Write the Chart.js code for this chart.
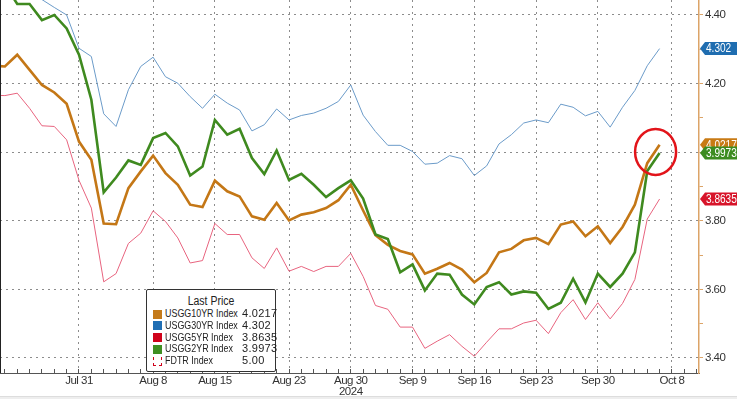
<!DOCTYPE html>
<html>
<head>
<meta charset="utf-8">
<script src="https://cdn.jsdelivr.net/npm/chart.js@4.4.1/dist/chart.umd.min.js"></script>
<style>
    body { margin: 0; background: #fff; }
    #wrap { position: relative; width: 737px; height: 399px; overflow: hidden; }
    #leftEdge { position: absolute; left: 0; top: 0; width: 1px; height: 373px; background: #222; }
    #footer { position: absolute; left: 0; top: 396px; width: 737px; height: 3px; background: #eee; border-top: 1px solid #ddd; }
    #legend {
        position: absolute; left: 146px; top: 289px; width: 128px; height: 81px;
        border: 1px solid #333; border-radius: 2px; background: #fff;
        font-family: 'Liberation Sans', Arial, sans-serif;
        color: #222; font-size: 11px;
    }
    #legend .title { position: relative; height: 13px; line-height: 13px; margin-top: 5px; font-size: 12.5px; }
    #legend .title span { position: absolute; left: 64px; transform: translateX(-50%) scaleX(0.84); white-space: nowrap; }
    #legend .row { position: relative; height: 11.8px; line-height: 11.8px; white-space: nowrap; }
    #legend .sw { position: absolute; left: 6px; top: 1.5px; width: 9px; height: 9px; box-sizing: border-box; }
    #legend .name { position: absolute; left: 18px; transform: scaleX(0.81); transform-origin: left center; }
    #legend .val { position: absolute; left: 95px; letter-spacing: 0.3px; }
</style>
</head>
<body>
<div id="wrap">
    <canvas id="myChart" width="737" height="399"></canvas>
    <div id="leftEdge"></div>
    <div id="footer"></div>
    <div id="legend"></div>
</div>
<script>
// trading days on the axis (data runs Jul 22 - Oct 7)
const axisDates = ['Jul 22', 'Jul 23', 'Jul 24', 'Jul 25', 'Jul 26', 'Jul 29', 'Jul 30', 'Jul 31',
    'Aug 1', 'Aug 2', 'Aug 5', 'Aug 6', 'Aug 7', 'Aug 8', 'Aug 9', 'Aug 12', 'Aug 13', 'Aug 14', 'Aug 15',
    'Aug 16', 'Aug 19', 'Aug 20', 'Aug 21', 'Aug 22', 'Aug 23', 'Aug 26', 'Aug 27', 'Aug 28', 'Aug 29', 'Aug 30',
    'Sep 3', 'Sep 4', 'Sep 5', 'Sep 6', 'Sep 9', 'Sep 10', 'Sep 11', 'Sep 12', 'Sep 13', 'Sep 16', 'Sep 17',
    'Sep 18', 'Sep 19', 'Sep 20', 'Sep 23', 'Sep 24', 'Sep 25', 'Sep 26', 'Sep 27', 'Sep 30',
    'Oct 1', 'Oct 2', 'Oct 3', 'Oct 4', 'Oct 7', 'Oct 8', 'Oct 9', 'Oct 10'];

const tickDates = ['Jul 31', 'Aug 8', 'Aug 15', 'Aug 23', 'Aug 30', 'Sep 9', 'Sep 16', 'Sep 23', 'Sep 30', 'Oct 8'];
const yearLabel = { date: 'Aug 30', text: '2024' };

const yTicks = [3.4, 3.5, 3.6, 3.7, 3.8, 3.9, 4.0, 4.1, 4.2, 4.3, 4.4];
const yLabeled = [3.4, 3.6, 3.8, 4.0, 4.2, 4.4];

const usgg10yr = [4.252, 4.250, 4.284, 4.240, 4.196, 4.174, 4.141, 4.031, 3.978, 3.792,
    3.790, 3.895, 3.944, 3.990, 3.939, 3.905, 3.847, 3.840, 3.917, 3.886,
    3.871, 3.813, 3.803, 3.852, 3.801, 3.818, 3.825, 3.837, 3.860, 3.905,
    3.830, 3.758, 3.730, 3.712, 3.702, 3.646, 3.660, 3.677, 3.658, 3.621,
    3.648, 3.708, 3.718, 3.743, 3.750, 3.732, 3.789, 3.798, 3.755, 3.784,
    3.735, 3.782, 3.847, 3.968, 4.0217];

const usgg30yr = [4.500, 4.490, 4.480, 4.465, 4.445, 4.422, 4.400, 4.303, 4.279, 4.112,
    4.075, 4.182, 4.250, 4.277, 4.220, 4.201, 4.162, 4.128, 4.169, 4.143,
    4.123, 4.062, 4.080, 4.126, 4.094, 4.107, 4.114, 4.128, 4.148, 4.196,
    4.108, 4.060, 4.020, 4.020, 4.002, 3.965, 3.968, 3.990, 3.981, 3.932,
    3.960, 4.024, 4.051, 4.085, 4.094, 4.086, 4.140, 4.131, 4.106, 4.119,
    4.073, 4.131, 4.180, 4.252, 4.302];

const usgg5yr = [4.166, 4.165, 4.172, 4.128, 4.077, 4.075, 4.036, 3.918, 3.837, 3.622,
    3.646, 3.734, 3.764, 3.829, 3.798, 3.750, 3.677, 3.684, 3.792, 3.760,
    3.760, 3.692, 3.661, 3.721, 3.653, 3.667, 3.652, 3.667, 3.667, 3.705,
    3.638, 3.553, 3.542, 3.490, 3.490, 3.428, 3.449, 3.468, 3.434, 3.405,
    3.446, 3.485, 3.485, 3.502, 3.510, 3.471, 3.532, 3.570, 3.512, 3.561,
    3.514, 3.559, 3.629, 3.805, 3.8635];

const usgg2yr = [4.500, 4.490, 4.432, 4.432, 4.385, 4.400, 4.361, 4.284, 4.153, 3.883,
    3.926, 3.976, 3.963, 4.041, 4.056, 4.017, 3.932, 3.958, 4.094, 4.051,
    4.068, 3.983, 3.936, 4.005, 3.919, 3.937, 3.905, 3.869, 3.895, 3.918,
    3.865, 3.760, 3.747, 3.650, 3.673, 3.597, 3.646, 3.643, 3.585, 3.556,
    3.607, 3.621, 3.585, 3.594, 3.590, 3.543, 3.561, 3.631, 3.562, 3.646,
    3.607, 3.646, 3.708, 3.945, 3.9973];

// fed funds target (upper bound), far above the visible range
const fdtr = [5.50, 5.50, 5.50, 5.50, 5.50, 5.50, 5.50, 5.50, 5.50, 5.50,
    5.50, 5.50, 5.50, 5.50, 5.50, 5.50, 5.50, 5.50, 5.50, 5.50,
    5.50, 5.50, 5.50, 5.50, 5.50, 5.50, 5.50, 5.50, 5.50, 5.50,
    5.50, 5.50, 5.50, 5.50, 5.50, 5.50, 5.50, 5.50, 5.50, 5.50,
    5.50, 5.00, 5.00, 5.00, 5.00, 5.00, 5.00, 5.00, 5.00, 5.00,
    5.00, 5.00, 5.00, 5.00, 5.00];

const legendNames = ['USGG10YR Index', 'USGG30YR Index', 'USGG5YR Index', 'USGG2YR Index', 'FDTR Index'];
const lastPrice = ['4.0217', '4.302', '3.8635', '3.9973', '5.00'];

const FONT = "'Liberation Sans', Arial, sans-serif";
const AXIS_TAN = '#dca468';

function series(label, values, color, width, order, extra) {
    return Object.assign({
        label: label,
        data: values.map((v, i) => ({ x: i, y: v })),
        borderColor: color,
        backgroundColor: color,
        borderWidth: width,
        pointRadius: 0,
        tension: 0,
        fill: false,
        order: order
    }, extra || {});
}

// tighter text, like the terminal font
const narrowText = {
    id: 'narrowText',
    beforeDraw(chart) {
        chart.ctx.letterSpacing = '-0.5px';
    }
};

// price tags on the right axis
const tagPlugin = {
    id: 'priceTags',
    afterDraw(chart) {
        const ctx = chart.ctx;
        const yScale = chart.scales.y;
        const left = chart.chartArea.right;
        const tags = [
            { value: usgg30yr[usgg30yr.length - 1], text: lastPrice[1], color: '#1f6db0' },
            { value: usgg10yr[usgg10yr.length - 1], text: lastPrice[0], color: '#c87a14' },
            { value: usgg2yr[usgg2yr.length - 1], text: lastPrice[3], color: '#3c8c20' },
            { value: usgg5yr[usgg5yr.length - 1], text: lastPrice[2], color: '#d7142a' }
        ];
        ctx.save();
        ctx.letterSpacing = '0px';
        tags.forEach(t => {
            const y = yScale.getPixelForValue(t.value);
            ctx.fillStyle = t.color;
            ctx.beginPath();
            ctx.moveTo(left + 1, y);
            ctx.lineTo(left + 6, y - 6.5);
            ctx.lineTo(chart.width, y - 6.5);
            ctx.lineTo(chart.width, y + 6.5);
            ctx.lineTo(left + 6, y + 6.5);
            ctx.closePath();
            ctx.fill();
            ctx.save();
            ctx.translate(left + 7, y + 0.5);
            ctx.scale(0.84, 1);
            ctx.fillStyle = '#fff';
            ctx.font = '12px ' + FONT;
            ctx.textBaseline = 'middle';
            ctx.textAlign = 'left';
            ctx.fillText(t.text, 0, 0);
            ctx.restore();
        });
        ctx.restore();
    }
};

// red circle round the latest 10y / 2y prints
const circlePlugin = {
    id: 'circleNote',
    afterDatasetsDraw(chart) {
        const ctx = chart.ctx;
        const i = axisDates.indexOf('Oct 7');
        const cx = chart.scales.x.getPixelForValue(i) - 4;
        const cy = chart.scales.y.getPixelForValue((usgg10yr[i] + usgg2yr[i]) / 2) + 3;
        ctx.save();
        ctx.strokeStyle = '#e2141a';
        ctx.lineWidth = 2.5;
        ctx.beginPath();
        ctx.ellipse(cx, cy, 20.5, 23, 0, 0, Math.PI * 2);
        ctx.stroke();
        ctx.restore();
    }
};

const ctx = document.getElementById('myChart').getContext('2d');
new Chart(ctx, {
    type: 'line',
    data: {
        datasets: [
            series('USGG10YR Index', usgg10yr, '#c47716', 2.6, 4),
            series('USGG30YR Index', usgg30yr, '#6b9bc9', 1, 3),
            series('USGG5YR Index', usgg5yr, '#e8647f', 1, 2),
            series('USGG2YR Index', usgg2yr, '#3f8a1f', 2.6, 1),
            series('FDTR Index', fdtr, '#d0021b', 1, 5, { stepped: true, borderDash: [3, 3] })
        ]
    },
    options: {
        responsive: false,
        animation: false,
        layout: { padding: 0 },
        plugins: {
            legend: { display: false },
            tooltip: { enabled: false }
        },
        scales: {
            x: {
                type: 'linear',
                min: 0.605,
                max: 57.19,
                afterBuildTicks: scale => {
                    scale.ticks = axisDates.map((d, i) => ({ value: i }))
                        .filter(t => t.value >= scale.min && t.value <= scale.max);
                },
                afterFit: scale => {
                    scale.height = 26;
                    scale.paddingLeft = 0;
                    scale.paddingRight = 0;
                },
                ticks: {
                    autoSkip: false,
                    maxRotation: 0,
                    padding: 6,
                    color: '#333',
                    font: { family: FONT, size: 11.5, lineHeight: 1 },
                    callback: value => {
                        const d = axisDates[value];
                        if (!tickDates.includes(d)) return '';
                        return d === yearLabel.date ? [d, yearLabel.text] : d;
                    }
                },
                grid: {
                    color: c => (c.tick && tickDates.includes(axisDates[c.tick.value])) ? '#8c8c8c' : 'rgba(0,0,0,0)',
                    tickColor: '#555',
                    tickLength: -4,
                    lineWidth: 1
                },
                border: { color: '#555', width: 1, dash: [2, 4] }
            },
            y: {
                position: 'right',
                min: 3.3562,
                max: 4.4437,
                afterBuildTicks: scale => {
                    scale.ticks = yTicks.map(v => ({ value: v }));
                },
                afterFit: scale => {
                    scale.width = 38;
                    scale.paddingTop = 0;
                    scale.paddingBottom = 0;
                },
                ticks: {
                    padding: 2,
                    color: '#333',
                    font: { family: FONT, size: 11.5 },
                    callback: value => yLabeled.some(v => Math.abs(v - value) < 1e-6) ? value.toFixed(2) : ''
                },
                grid: {
                    color: c => (c.tick && yLabeled.some(v => Math.abs(v - c.tick.value) < 1e-6)) ? '#8c8c8c' : 'rgba(0,0,0,0)',
                    tickColor: AXIS_TAN,
                    tickLength: 4,
                    lineWidth: 1
                },
                border: { color: AXIS_TAN, width: 1.5, dash: [2, 4] }
            }
        }
    },
    plugins: [narrowText, circlePlugin, tagPlugin]
});

// legend box, "Last Price"
const swatchColors = ['#c47a1a', '#1f6eb4', '#d0021b', '#3f8f22', null];
const legend = document.getElementById('legend');
let html = '<div class="title"><span>Last Price</span></div>';
legendNames.forEach((name, i) => {
    const sw = swatchColors[i]
        ? '<span class="sw" style="background:' + swatchColors[i] + '"></span>'
        : '<span class="sw" style="border:1px dashed #d0021b;border-top:none"></span>';
    html += '<div class="row">' + sw + '<span class="name">' + name + '</span><span class="val">' + lastPrice[i] + '</span></div>';
});
legend.innerHTML = html;
</script>
</body>
</html>
